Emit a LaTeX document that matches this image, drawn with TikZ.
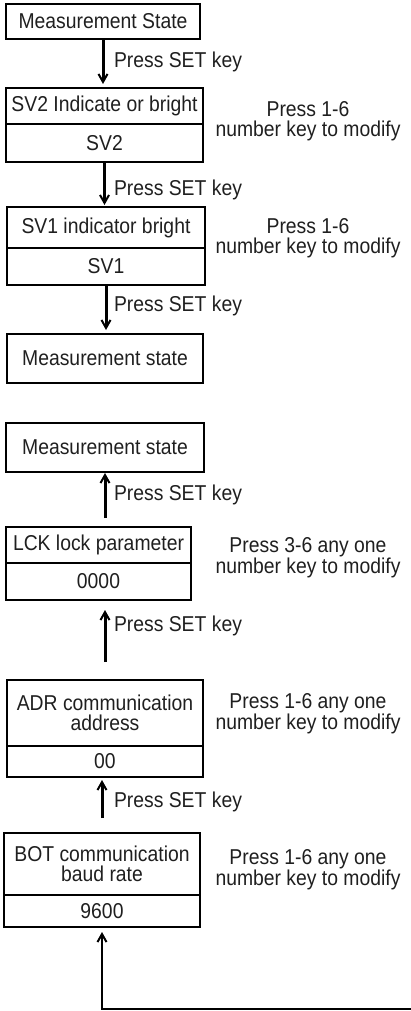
\documentclass[tikz,border=0pt]{standalone}
\usepackage{fontspec}
\setmainfont{Liberation Sans}[FakeStretch=0.9]
\usetikzlibrary{arrows.meta,calc}
\begin{document}
\begin{tikzpicture}[x=1pt,y=-1pt,
  every node/.style={font=\fontsize{21.5}{19.5}\selectfont, inner sep=0pt, outer sep=0pt, text=black!88},
  box/.style={draw, line width=2.4pt, anchor=north west, align=center},
  arr/.style={line width=3pt, -{Straight Barb[length=8pt,width=9pt,line width=2pt]}},
  lbl/.style={anchor=west},
  note/.style={align=center}]
\useasboundingbox (0,0) rectangle (410,1011);
% boxes
\node[box, minimum width=194, minimum height=35] (b1) at (6,4) {Measurement State};
\node[box, minimum width=197, minimum height=36] (b2t) at (6,88) {SV2 Indicate or bright};
\node[box, minimum width=197, minimum height=38] (b2b) at (6,124) {SV2};
\node[box, minimum width=198, minimum height=41] (b3t) at (7,207) {SV1 indicator bright};
\node[box, minimum width=198, minimum height=37] (b3b) at (7,248) {SV1};
\node[box, minimum width=196, minimum height=49] (b4) at (7,334) {Measurement state};
\node[box, minimum width=198, minimum height=49] (b5) at (6,423) {Measurement state};
\node[box, minimum width=185, minimum height=36] (b6t) at (6,527) {LCK lock parameter};
\node[box, minimum width=185, minimum height=37] (b6b) at (6,563) {0000};
\node[box, minimum width=196, minimum height=66] (b7t) at (7,680) {ADR communication\\address};
\node[box, minimum width=196, minimum height=31] (b7b) at (7,746) {00};
\node[box, minimum width=196, minimum height=62] (b8t) at (4,833) {BOT communication\\baud rate};
\node[box, minimum width=196, minimum height=32] (b8b) at (4,895) {9600};
% notes
\node[note] (n2) at (308,121) {Press 1-6\\number key to modify};
\node[note] (n3) at (308,238) {Press 1-6\\number key to modify};
\node[note] (n6) at (308,558) {Press 3-6 any one\\number key to modify};
\node[note] (n7) at (308,714) {Press 1-6 any one\\number key to modify};
\node[note] (n8) at (308,870) {Press 1-6 any one\\number key to modify};
% labels
\node[lbl] (l1) at (114,62) {Press SET key};
\node[lbl] (l2) at (114,190) {Press SET key};
\node[lbl] (l3) at (114,306) {Press SET key};
\node[lbl] (l4) at (114,495) {Press SET key};
\node[lbl] (l5) at (114,626) {Press SET key};
\node[lbl] (l6) at (114,802) {Press SET key};
% arrows
\draw[arr, shorten >=4pt] (b1.south) -- (b1.south |- b2t.north);
\draw[arr, shorten >=2pt] (b2b.south) -- (b2b.south |- b3t.north);
\draw[arr, shorten >=4pt] (b3b.south) -- (b3b.south |- b4.north);
\draw[arr, shorten <=9pt, shorten >=1pt] (b5.south |- b6t.north) -- (b5.south);
\draw[arr, shorten <=18pt, shorten >=10pt] (b7t.north) -- (b7t.north |- b6b.south);
\draw[arr, shorten <=15pt, shorten >=3pt] (b8t.north) -- (b8t.north |- b7b.south);
\coordinate (e) at (412,1009);
\draw[arr, line width=2.4pt, shorten >=5pt] (e) -| (b8b.south);
\end{tikzpicture}
\end{document}
